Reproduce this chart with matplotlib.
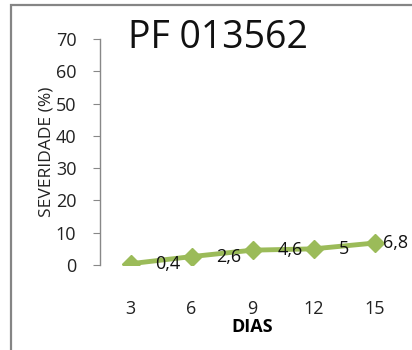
import matplotlib
matplotlib.use("Agg")
import matplotlib.pyplot as plt
from matplotlib.patches import Rectangle

# Severity over days for sample PF 013562
dias = ['3', '6', '9', '12', '15']
severidade = [0.4, 2.6, 4.6, 5, 6.8]
rotulos = ['0,4', '2,6', '4,6', '5', '6,8']
yticks = [0, 10, 20, 30, 40, 50, 60, 70]

plt.rcParams['font.family'] = ['Open Sans', 'DejaVu Sans']

fig = plt.figure(figsize=(4.12, 3.5), dpi=100)
fig.patch.set_facecolor('white')

# outer chart frame (only left and top visible)
fig.patches.append(Rectangle((11 / 412, -0.1), 1.2, 1 - 5 / 350 + 0.1,
                             transform=fig.transFigure, fill=False,
                             edgecolor='#858585', linewidth=1.6))

ax = fig.add_axes([100 / 412, 1 - 265 / 350, 305 / 412, 226 / 350])
x = list(range(len(dias)))
ax.plot(x, severidade, color='#9BBB59', linewidth=3.5, marker='D',
        markersize=9.5, markerfacecolor='#9BBB59', markeredgecolor='#9BBB59')

for i, (xi, yi, txt) in enumerate(zip(x, severidade, rotulos)):
    # last label is pulled in so it stays inside the chart
    dx = 6 if i == len(x) - 1 else 18
    ax.annotate(txt, (xi, yi), xytext=(dx, 0), textcoords='offset points',
                ha='left', va='center', fontsize=13, color='#111111')

ax.set_xlim(-0.5, len(dias) - 0.5)
ax.set_ylim(0, 70)
ax.set_yticks(yticks)
ax.set_xticks(x)
ax.set_xticklabels(dias)

for s in ['top', 'right', 'bottom']:
    ax.spines[s].set_visible(False)
ax.spines['left'].set_color('#888888')
ax.spines['left'].set_linewidth(1)

ax.tick_params(axis='y', length=5, color='#888888', labelsize=13,
               labelcolor='#222222', pad=12)
ax.tick_params(axis='x', length=0, labelsize=13, labelcolor='#222222', pad=25)

ax.set_xlabel('DIAS', fontsize=13, fontweight='bold', labelpad=0)
ax.set_ylabel('SEVERIDADE (%)', fontsize=12.5, color='#222222', labelpad=1)

fig.text(128 / 412, 1 - 38 / 350, 'PF 013562', fontsize=27, ha='left',
         va='center', color='#111111')

fig.savefig('out.png', dpi=100)
